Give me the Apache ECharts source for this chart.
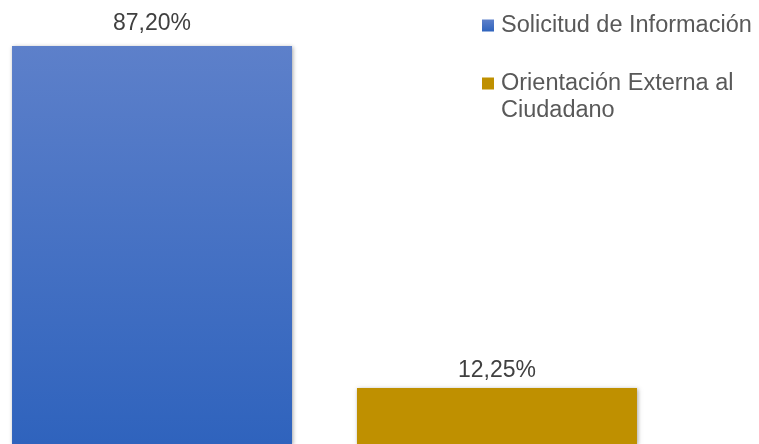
<!DOCTYPE html>
<html>
<head>
<meta charset="utf-8">
<script src="https://cdn.jsdelivr.net/npm/echarts@6/dist/echarts.min.js"></script>
<style>
  html, body { margin: 0; padding: 0; background: #ffffff; }
  #chart { width: 759px; height: 444px; }
</style>
</head>
<body>
<div id="chart"></div>
<script>
// Share of requests by type
const categories = ['Tipo'];
const seriesNames = ['Solicitud de Información', 'Orientación Externa al Ciudadano'];
const solicitudValues = [87.20];
const orientacionValues = [12.25];

const FONT = '"Liberation Sans", Arial, sans-serif';

function pct(v) {
  return v.toFixed(2).replace('.', ',') + '%';
}

const chart = echarts.init(document.getElementById('chart'), null, { renderer: 'canvas' });

const barShadow = {
  shadowBlur: 4,
  shadowColor: 'rgba(0,0,0,0.35)',
  shadowOffsetX: 1,
  shadowOffsetY: 1
};

const legendText = { fontFamily: FONT, fontSize: 23.5, color: '#595959', lineHeight: 27, padding: [0, 0, 0, 2] };

chart.setOption({
  animation: false,
  backgroundColor: '#ffffff',
  grid: { left: 0, right: 110, top: 46, bottom: -2, containLabel: false },
  xAxis: {
    type: 'category',
    data: categories,
    show: false
  },
  yAxis: {
    type: 'value',
    min: 0,
    max: 'dataMax',
    show: false,
    splitLine: { show: false }
  },
  legend: [
    {
      data: [seriesNames[0]],
      orient: 'vertical',
      left: 482,
      top: 12,
      padding: 0,
      itemWidth: 12,
      itemHeight: 12,
      itemGap: 0,
      icon: 'rect',
      textStyle: legendText
    },
    {
      data: [seriesNames[1]],
      orient: 'vertical',
      left: 482,
      top: 43,
      padding: 0,
      itemWidth: 12,
      itemHeight: 12,
      itemGap: 0,
      icon: 'rect',
      // wrap after "al"; the blank first line keeps the marker level with the first text line
      formatter: function (name) {
        return '\n' + name.replace(' Ciudadano', '\nCiudadano');
      },
      textStyle: legendText
    }
  ],
  series: [
    {
      name: seriesNames[0],
      type: 'bar',
      data: solicitudValues,
      barWidth: 280,
      barGap: '23.2%',
      itemStyle: Object.assign({
        color: new echarts.graphic.LinearGradient(0, 0, 0, 1, [
          { offset: 0, color: '#5d80ca' },
          { offset: 1, color: '#2f63bd' }
        ])
      }, barShadow),
      label: {
        show: true,
        position: 'top',
        distance: 11,
        formatter: function (p) { return pct(p.value); },
        fontFamily: FONT,
        fontSize: 23,
        color: '#404040'
      }
    },
    {
      name: seriesNames[1],
      type: 'bar',
      data: orientacionValues,
      barWidth: 280,
      itemStyle: Object.assign({ color: '#bf9000' }, barShadow),
      label: {
        show: true,
        position: 'top',
        distance: 6,
        formatter: function (p) { return pct(p.value); },
        fontFamily: FONT,
        fontSize: 23,
        color: '#404040'
      }
    }
  ]
});
</script>
</body>
</html>
